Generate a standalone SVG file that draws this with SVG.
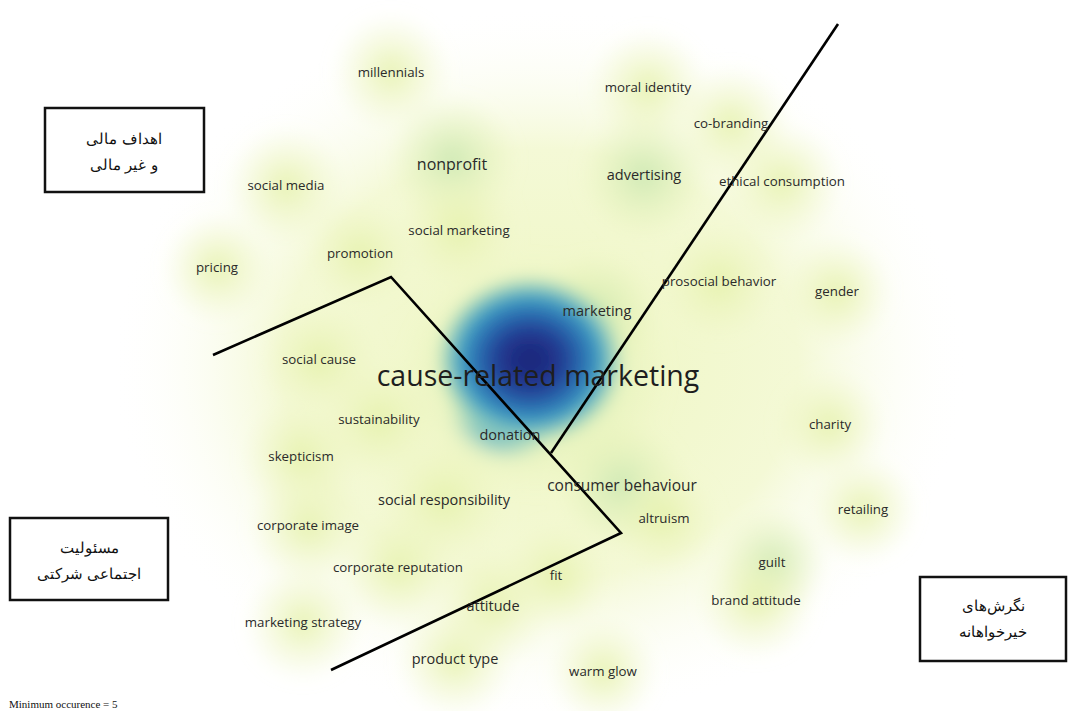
<svg xmlns="http://www.w3.org/2000/svg" width="1072" height="711" viewBox="0 0 1072 711">
<defs>
<style>
.lb{font-family:"Open Sans","Noto Sans","DejaVu Sans",sans-serif;fill:#2a2a2a;text-anchor:middle;font-size:13.3px}
.m{font-size:14.5px}
.fa{font-family:"Liberation Sans","Noto Sans",sans-serif;font-size:15px;fill:#111;text-anchor:middle}
.bx{fill:#fff;stroke:#111;stroke-width:2.5}
.ln{fill:none;stroke:#000;stroke-width:2.6;stroke-linejoin:miter}
</style>
<radialGradient id="haze" cx="0.5" cy="0.5" r="0.5">
<stop offset="0" stop-color="#eef6c2"/>
<stop offset="0.6" stop-color="#f4f9d6"/>
<stop offset="1" stop-color="#ffffff" stop-opacity="0"/>
</radialGradient>
<radialGradient id="spot" cx="0.5" cy="0.5" r="0.5">
<stop offset="0" stop-color="#e4f1a8" stop-opacity="0.85"/>
<stop offset="1" stop-color="#eef5c0" stop-opacity="0"/>
</radialGradient>
<radialGradient id="spotg" cx="0.5" cy="0.5" r="0.5">
<stop offset="0" stop-color="#cce8b4" stop-opacity="0.95"/>
<stop offset="1" stop-color="#e6f2b0" stop-opacity="0"/>
</radialGradient>
<radialGradient id="core" cx="0.5" cy="0.5" r="0.5">
<stop offset="0" stop-color="#1c2476"/>
<stop offset="0.3" stop-color="#21348d"/>
<stop offset="0.55" stop-color="#2a6cb1"/>
<stop offset="0.75" stop-color="#41a4c5"/>
<stop offset="0.9" stop-color="#9fd6b8" stop-opacity="0.85"/>
<stop offset="1" stop-color="#e0f0b0" stop-opacity="0"/>
</radialGradient>
<radialGradient id="tail" cx="0.5" cy="0.5" r="0.5">
<stop offset="0" stop-color="#2f7fbd"/>
<stop offset="0.5" stop-color="#4aa9c6" stop-opacity="0.8"/>
<stop offset="1" stop-color="#d0ebb5" stop-opacity="0"/>
</radialGradient>
<filter id="bl" x="-30%" y="-30%" width="160%" height="160%"><feGaussianBlur stdDeviation="8"/></filter>
</defs>
<rect width="1072" height="711" fill="#fff"/>
<g id="density">
<ellipse cx="540" cy="365" rx="430" ry="360" fill="url(#haze)"/>
<g filter="url(#bl)">
<circle cx="391" cy="72" r="60" fill="url(#spot)"/>
<circle cx="648" cy="88" r="60" fill="url(#spot)"/>
<circle cx="731" cy="124" r="60" fill="url(#spot)"/>
<circle cx="452" cy="160" r="65" fill="url(#spotg)"/>
<circle cx="644" cy="175" r="65" fill="url(#spotg)"/>
<circle cx="782" cy="182" r="60" fill="url(#spot)"/>
<circle cx="286" cy="186" r="60" fill="url(#spot)"/>
<circle cx="459" cy="230" r="60" fill="url(#spot)"/>
<circle cx="360" cy="254" r="55" fill="url(#spot)"/>
<circle cx="217" cy="268" r="55" fill="url(#spot)"/>
<circle cx="719" cy="282" r="60" fill="url(#spot)"/>
<circle cx="837" cy="292" r="55" fill="url(#spot)"/>
<circle cx="319" cy="360" r="60" fill="url(#spot)"/>
<circle cx="379" cy="420" r="60" fill="url(#spot)"/>
<circle cx="830" cy="425" r="55" fill="url(#spot)"/>
<circle cx="301" cy="457" r="60" fill="url(#spot)"/>
<circle cx="622" cy="485" r="65" fill="url(#spotg)"/>
<circle cx="444" cy="500" r="65" fill="url(#spot)"/>
<circle cx="863" cy="510" r="55" fill="url(#spot)"/>
<circle cx="664" cy="519" r="55" fill="url(#spot)"/>
<circle cx="308" cy="526" r="60" fill="url(#spot)"/>
<circle cx="772" cy="563" r="55" fill="url(#spotg)"/>
<circle cx="398" cy="568" r="60" fill="url(#spot)"/>
<circle cx="556" cy="576" r="55" fill="url(#spot)"/>
<circle cx="493" cy="606" r="60" fill="url(#spot)"/>
<circle cx="756" cy="601" r="60" fill="url(#spot)"/>
<circle cx="303" cy="623" r="60" fill="url(#spot)"/>
<circle cx="455" cy="660" r="60" fill="url(#spot)"/>
<circle cx="603" cy="672" r="55" fill="url(#spot)"/>
<circle cx="597" cy="312" r="60" fill="url(#spotg)"/>
<ellipse cx="535" cy="375" rx="135" ry="120" fill="url(#spotg)"/>
<ellipse cx="505" cy="415" rx="60" ry="50" fill="url(#tail)"/>
<ellipse cx="530" cy="360" rx="95" ry="85" fill="url(#core)"/>
</g>
</g>
<g id="connectors">
<polyline class="ln" points="213,355 391,277 621,533 331,670"/>
<line class="ln" x1="551" y1="453" x2="838" y2="24"/>
</g>
<g id="labels">
<g id="n-millennials"><text class="lb" x="391" y="77">millennials</text></g>
<g id="n-moral-identity"><text class="lb" x="648" y="92">moral identity</text></g>
<g id="n-co-branding"><text class="lb" x="731" y="128">co-branding</text></g>
<g id="n-nonprofit"><text class="lb" x="452" y="170" style="font-size:16px">nonprofit</text></g>
<g id="n-advertising"><text class="lb m" x="644" y="180">advertising</text></g>
<g id="n-ethical-consumption"><text class="lb" x="782" y="186">ethical consumption</text></g>
<g id="n-social-media"><text class="lb" x="286" y="190">social media</text></g>
<g id="n-social-marketing"><text class="lb" x="459" y="235">social marketing</text></g>
<g id="n-promotion"><text class="lb" x="360" y="258">promotion</text></g>
<g id="n-pricing"><text class="lb" x="217" y="272">pricing</text></g>
<g id="n-prosocial-behavior"><text class="lb" x="719" y="286">prosocial behavior</text></g>
<g id="n-gender"><text class="lb" x="837" y="296">gender</text></g>
<g id="n-marketing"><text class="lb m" x="597" y="316">marketing</text></g>
<g id="n-social-cause"><text class="lb" x="319" y="364">social cause</text></g>
<g id="n-cause-related-marketing"><text class="lb" x="538" y="386" style="font-size:28.5px;fill:#1e1e1e">cause-related marketing</text></g>
<g id="n-sustainability"><text class="lb" x="379" y="424">sustainability</text></g>
<g id="n-charity"><text class="lb" x="830" y="429">charity</text></g>
<g id="n-donation"><text class="lb m" x="510" y="440">donation</text></g>
<g id="n-skepticism"><text class="lb" x="301" y="461">skepticism</text></g>
<g id="n-consumer-behaviour"><text class="lb" x="622" y="491" style="font-size:15.5px">consumer behaviour</text></g>
<g id="n-social-responsibility"><text class="lb m" x="444" y="505">social responsibility</text></g>
<g id="n-retailing"><text class="lb" x="863" y="514">retailing</text></g>
<g id="n-altruism"><text class="lb" x="664" y="523">altruism</text></g>
<g id="n-corporate-image"><text class="lb" x="308" y="530">corporate image</text></g>
<g id="n-guilt"><text class="lb" x="772" y="567">guilt</text></g>
<g id="n-corporate-reputation"><text class="lb" x="398" y="572">corporate reputation</text></g>
<g id="n-fit"><text class="lb" x="556" y="580">fit</text></g>
<g id="n-attitude"><text class="lb m" x="493" y="611">attitude</text></g>
<g id="n-brand-attitude"><text class="lb" x="756" y="605">brand attitude</text></g>
<g id="n-marketing-strategy"><text class="lb" x="303" y="627">marketing strategy</text></g>
<g id="n-product-type"><text class="lb m" x="455" y="664">product type</text></g>
<g id="n-warm-glow"><text class="lb" x="603" y="676">warm glow</text></g>
</g>
<g id="box-financial">
<rect class="bx" x="45" y="108" width="159" height="84"/>
<text class="fa" x="124" y="144" direction="rtl">اهداف مالی</text>
<text class="fa" x="124" y="170" direction="rtl">و غیر مالی</text>
</g>
<g id="box-csr">
<rect class="bx" x="10" y="518" width="158" height="82"/>
<text class="fa" x="89" y="553" direction="rtl">مسئولیت</text>
<text class="fa" x="89" y="579" direction="rtl">اجتماعی شرکتی</text>
</g>
<g id="box-charitable">
<rect class="bx" x="920" y="577" width="146" height="84"/>
<text class="fa" x="993" y="611" direction="rtl">نگرش‌های</text>
<text class="fa" x="993" y="637" direction="rtl">خیرخواهانه</text>
</g>
<g id="footer"><text x="9" y="708" style="font-family:'Liberation Serif',serif;font-size:11px;fill:#111">Minimum occurence = 5</text></g>
</svg>
